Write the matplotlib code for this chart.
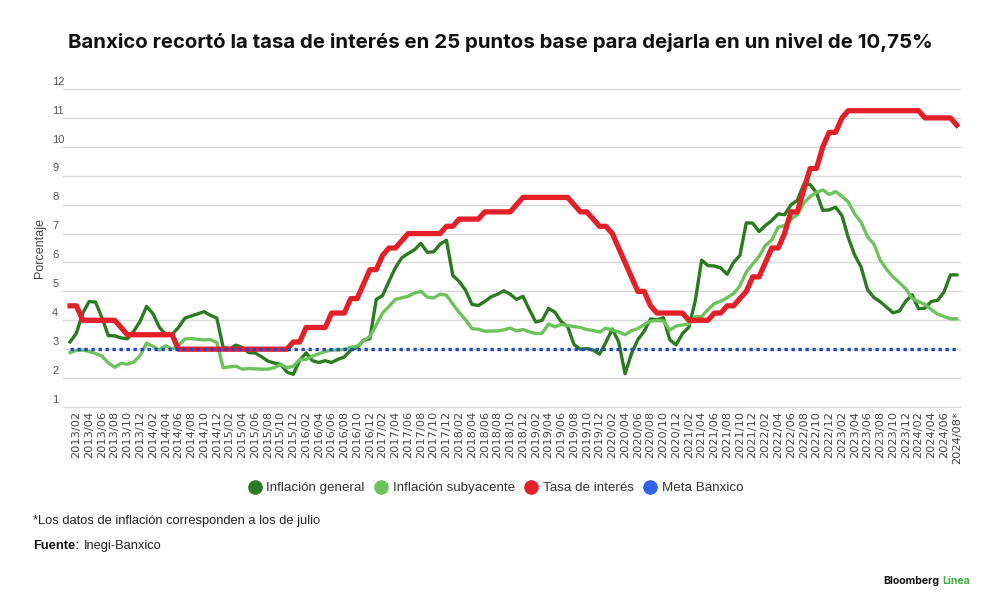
import matplotlib
matplotlib.use("Agg")
import matplotlib.pyplot as plt
from matplotlib.lines import Line2D
import numpy as np

FONT = ['Liberation Sans', 'DejaVu Sans']
plt.rcParams['font.family'] = FONT

# ---------------- data (monthly, 2013/01 .. 2024/08) ----------------
years = list(range(2013, 2025))
months = [f"{y}/{m:02d}" for y in years for m in range(1, 13)][:140]
tick_labels = [m if m != "2024/08" else "2024/08*" for m in months]

inflacion_general = [
    3.25, 3.55, 4.25, 4.65, 4.63, 4.09, 3.47, 3.46, 3.39, 3.36, 3.62, 3.97,
    4.48, 4.23, 3.76, 3.50, 3.51, 3.75, 4.07, 4.15, 4.22, 4.30, 4.17, 4.08,
    3.07, 3.00, 3.14, 3.06, 2.88, 2.87, 2.74, 2.59, 2.52, 2.48, 2.21, 2.13,
    2.61, 2.87, 2.60, 2.54, 2.60, 2.54, 2.65, 2.73, 2.97, 3.06, 3.31, 3.36,
    4.72, 4.86, 5.35, 5.82, 6.16, 6.31, 6.44, 6.66, 6.35, 6.37, 6.63, 6.77,
    5.55, 5.34, 5.04, 4.55, 4.51, 4.65, 4.81, 4.90, 5.02, 4.90, 4.72, 4.83,
    4.37, 3.94, 4.00, 4.41, 4.28, 3.95, 3.78, 3.16, 3.00, 3.02, 2.97, 2.83,
    3.24, 3.70, 3.25, 2.15, 2.84, 3.33, 3.62, 4.05, 4.01, 4.09, 3.33, 3.15,
    3.54, 3.76, 4.67, 6.08, 5.89, 5.88, 5.81, 5.59, 6.00, 6.24, 7.37, 7.36,
    7.07, 7.28, 7.45, 7.68, 7.65, 7.99, 8.15, 8.70, 8.70, 8.41, 7.80, 7.82,
    7.91, 7.62, 6.85, 6.25, 5.84, 5.06, 4.79, 4.64, 4.45, 4.26, 4.32, 4.66,
    4.88, 4.40, 4.42, 4.65, 4.69, 4.98, 5.57, 5.57,
]

inflacion_subyacente = [
    2.88, 2.96, 2.97, 2.92, 2.85, 2.76, 2.53, 2.37, 2.51, 2.48, 2.56, 2.78,
    3.21, 3.10, 2.97, 3.12, 3.00, 3.13, 3.35, 3.37, 3.34, 3.32, 3.33, 3.24,
    2.36, 2.39, 2.41, 2.31, 2.33, 2.32, 2.31, 2.31, 2.36, 2.47, 2.36, 2.41,
    2.64, 2.65, 2.76, 2.84, 2.92, 2.97, 2.97, 2.99, 3.07, 3.10, 3.29, 3.44,
    3.84, 4.26, 4.48, 4.72, 4.78, 4.83, 4.94, 5.00, 4.80, 4.77, 4.90, 4.87,
    4.56, 4.27, 4.02, 3.71, 3.69, 3.62, 3.63, 3.63, 3.67, 3.73, 3.63, 3.68,
    3.60, 3.54, 3.55, 3.87, 3.77, 3.85, 3.82, 3.78, 3.75, 3.68, 3.65, 3.59,
    3.73, 3.66, 3.60, 3.50, 3.64, 3.71, 3.85, 3.97, 3.99, 3.98, 3.66, 3.80,
    3.84, 3.87, 4.12, 4.13, 4.37, 4.58, 4.66, 4.78, 4.92, 5.19, 5.67, 5.94,
    6.21, 6.59, 6.78, 7.22, 7.28, 7.49, 7.65, 8.05, 8.28, 8.42, 8.51, 8.35,
    8.45, 8.29, 8.09, 7.67, 7.39, 6.89, 6.64, 6.08, 5.76, 5.50, 5.30, 5.09,
    4.76, 4.64, 4.55, 4.37, 4.21, 4.13, 4.05, 4.05,
]

tasa_interes = [
    4.50, 4.50, 4.00, 4.00, 4.00, 4.00, 4.00, 4.00, 3.75, 3.50, 3.50, 3.50,
    3.50, 3.50, 3.50, 3.50, 3.50, 3.00, 3.00, 3.00, 3.00, 3.00, 3.00, 3.00,
    3.00, 3.00, 3.00, 3.00, 3.00, 3.00, 3.00, 3.00, 3.00, 3.00, 3.00, 3.25,
    3.25, 3.75, 3.75, 3.75, 3.75, 4.25, 4.25, 4.25, 4.75, 4.75, 5.25, 5.75,
    5.75, 6.25, 6.50, 6.50, 6.75, 7.00, 7.00, 7.00, 7.00, 7.00, 7.00, 7.25,
    7.25, 7.50, 7.50, 7.50, 7.50, 7.75, 7.75, 7.75, 7.75, 7.75, 8.00, 8.25,
    8.25, 8.25, 8.25, 8.25, 8.25, 8.25, 8.25, 8.00, 7.75, 7.75, 7.50, 7.25,
    7.25, 7.00, 6.50, 6.00, 5.50, 5.00, 5.00, 4.50, 4.25, 4.25, 4.25, 4.25,
    4.25, 4.00, 4.00, 4.00, 4.00, 4.25, 4.25, 4.50, 4.50, 4.75, 5.00, 5.50,
    5.50, 6.00, 6.50, 6.50, 7.00, 7.75, 7.75, 8.50, 9.25, 9.25, 10.00, 10.50,
    10.50, 11.00, 11.25, 11.25, 11.25, 11.25, 11.25, 11.25, 11.25, 11.25, 11.25, 11.25,
    11.25, 11.25, 11.00, 11.00, 11.00, 11.00, 11.00, 10.75,
]

meta_banxico = [3.0] * 140

y_ticks = list(range(1, 13))

series_names = ["Inflación general", "Inflación subyacente", "Tasa de interés", "Meta Banxico"]
legend_colors = ["#2a7a24", "#6cc35c", "#e3202a", "#2f62e8"]

title = "Banxico recortó la tasa de interés en 25 puntos base para dejarla en un nivel de 10,75%"
footnote = "*Los datos de inflación corresponden a los de julio"

# ---------------- figure ----------------
fig = plt.figure(figsize=(10, 6.08), dpi=100)
ax = fig.add_axes([0.063, 1 - 407 / 608, 0.897, (407 - 89) / 608])

x = np.arange(len(months))
ax.plot(x, inflacion_general, color="#2a7a1f", lw=2.4, zorder=3)
ax.plot(x, inflacion_subyacente, color="#6cc35c", lw=2.4, zorder=4)
ax.plot(x, tasa_interes, color="#e3202a", lw=3.8, zorder=5)
ax.plot(x, meta_banxico, color="#2445d0", lw=2.4, ls=(0, (1, 1.1)), zorder=6)

ax.set_xlim(-1.1, len(months) - 1 + 0.5)
ax.set_ylim(1, 12)

for spine in ax.spines.values():
    spine.set_visible(False)

ax.set_yticks(y_ticks)
ax.yaxis.grid(True, color="#d9d9d9", lw=1.0)
for gl in ax.get_ygridlines():
    gl.set_clip_on(False)
ax.set_axisbelow(True)
ax.tick_params(axis="y", length=0, labelleft=False)
for v in y_ticks:
    ax.text(-0.012, v + 0.08, str(v), transform=ax.get_yaxis_transform(),
            ha="left", va="bottom", fontsize=8, color="#555555")

ax.set_xticks(x[1::2])
ax.set_xticklabels(tick_labels[1::2], rotation=90, fontsize=8.2, color="#444444",
                   family=['DejaVu Sans'])
ax.tick_params(axis="x", length=0, pad=3)

ax.set_ylabel("Porcentaje", fontsize=9, color="#444444")
ax.yaxis.set_label_coords(-0.019, 0.5)

fig.text(0.5, 1 - 42 / 608, title, ha="center", va="center",
         fontsize=14.7, fontweight="bold", color="#111111",
         family=['Inter', 'DejaVu Sans'])

handles = [Line2D([], [], ls="none", marker="o", markersize=9.5, color=c) for c in legend_colors]
fig.legend(handles, series_names, loc="center", bbox_to_anchor=(0.495, 1 - 488 / 608),
           ncol=4, frameon=False, fontsize=9.6, handletextpad=0.3, columnspacing=0.6,
           handlelength=1.2, labelcolor="#333333")

fig.text(0.033, 1 - 521 / 608, footnote, ha="left", va="center", fontsize=9.3, color="#222222")
t1 = fig.text(0.033, 1 - 546 / 608, "Fuente:", ha="left", va="center", fontsize=9.3,
              fontweight="bold", color="#111111")
fig.canvas.draw()
bb = t1.get_window_extent()
fig.text(bb.x1 / fig.bbox.width + 0.004, 1 - 546 / 608, "Inegi-Banxico", ha="left", va="center",
         fontsize=9.3, color="#222222")

t2 = fig.text(0.97, 1 - 581 / 608, "Línea", ha="right", va="center", fontsize=7.6,
              fontweight="bold", color="#3fae3a", family=['Inter', 'DejaVu Sans'])
fig.canvas.draw()
bb2 = t2.get_window_extent()
fig.text(bb2.x0 / fig.bbox.width - 0.003, 1 - 581 / 608, "Bloomberg", ha="right", va="center",
         fontsize=7.6, fontweight="bold", color="#111111", family=['Inter', 'DejaVu Sans'])

fig.savefig("out.png", dpi=100, facecolor="white")
